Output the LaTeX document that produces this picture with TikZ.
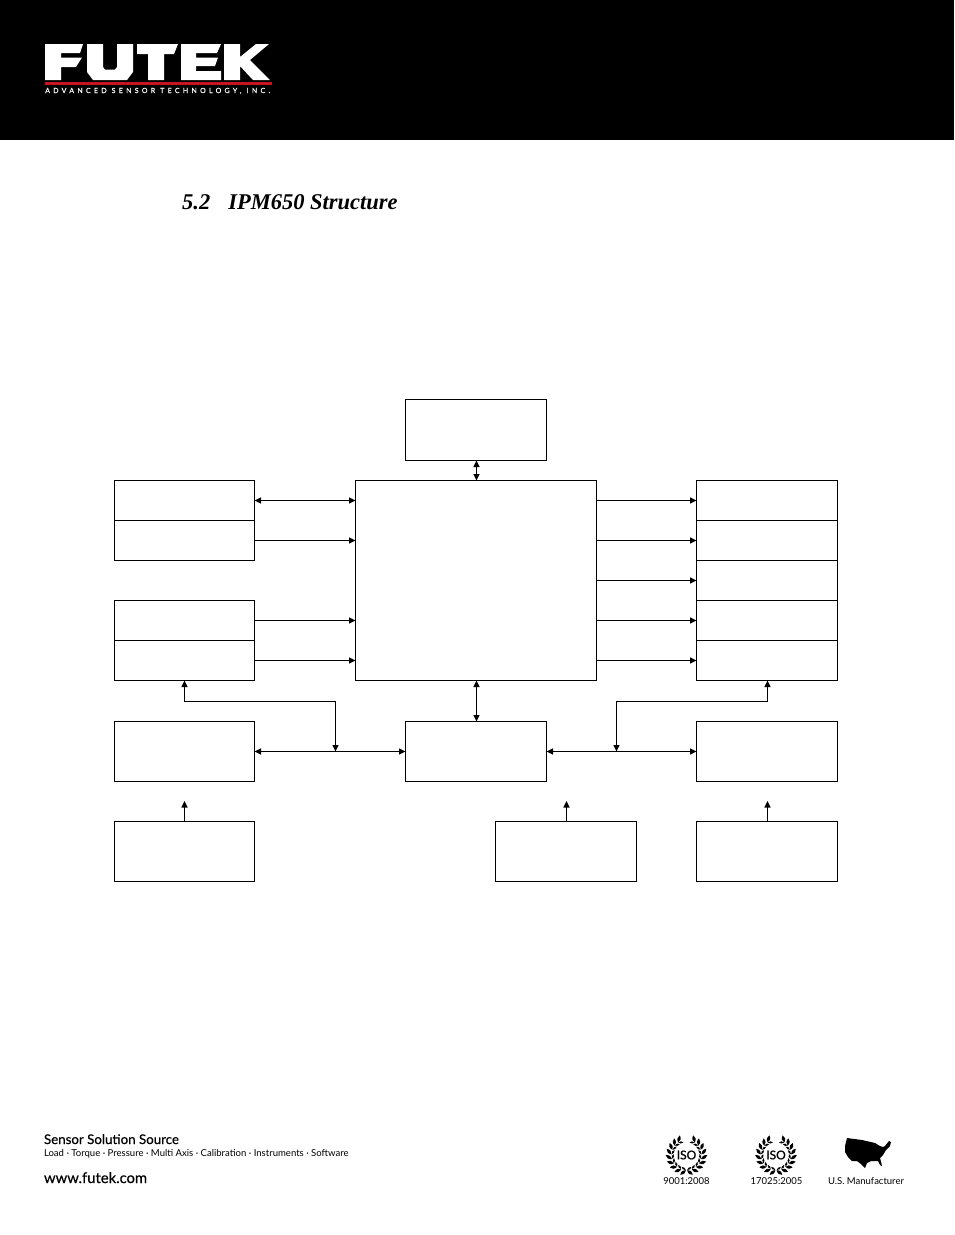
\documentclass[tikz,border=0pt]{standalone}
\usepackage{fontspec}
\setmainfont{Liberation Serif}
\newfontfamily\foot{Lato}
\newfontfamily\footb[FakeBold=0.4]{Lato}
\newfontfamily\isob[FakeBold=1]{Lato}
\newfontfamily\logotxt[LetterSpace=47,FakeBold=0.4]{Lato}
\usetikzlibrary{arrows.meta}
\definecolor{logored}{RGB}{200,20,30}
\tikzset{
  box/.style={draw=black,line width=1.1pt,fill=none,inner sep=0pt,outer sep=0pt,minimum width=#1},
  box/.default=140pt,
  rowbox/.style={box=140pt,minimum height=40pt},
  tallbox/.style={box=141pt,minimum height=60pt},
  arr/.style={line width=1.1pt,-{Stealth[inset=0pt,length=6.5pt,width=6pt]}},
  darr/.style={line width=1.1pt,{Stealth[inset=0pt,length=6.5pt,width=6pt]}-{Stealth[inset=0pt,length=6.5pt,width=6pt]}},
  logoshape/.style={fill=white,draw=none},
  foottext/.style={inner sep=0pt,outer sep=0pt,text=black}
}
\newcommand{\isomark}[2]{%
  \foreach \sx in {1,-1}{%
    \begin{scope}[shift={(#1,#2)},xscale=\sx]
      \foreach \a in {62,44,26,8,-10,-28,-46,-64,-82}{%
        \fill[black,rotate=\a] (15pt,-1.4pt) .. controls (18.5pt,-1.4pt) and (20.5pt,.6pt) .. (20.5pt,3.4pt) .. controls (17pt,3.2pt) and (15pt,1.5pt) .. (15pt,-1.4pt) -- cycle;
        \fill[black,rotate=\a] (15pt,-1.4pt) .. controls (13pt,-.8pt) and (12.2pt,1pt) .. (12.4pt,3.2pt) .. controls (14.4pt,2.8pt) and (15.4pt,1pt) .. (15pt,-1.4pt) -- cycle;
      }
    \end{scope}
  }%
}
\begin{document}
\begin{tikzpicture}[x=1pt,y=-1pt]
\useasboundingbox (0,0) rectangle (954,1235);
\fill[white] (0,0) rectangle (954,1235);
% header
\fill[black] (0,0) rectangle (954,140);
\fill[logoshape] (45,44)--(83,44)--(80,53)--(61,53)--(61,57.5)--(82,57.5)--(76,67)--(61,67)--(61,80)--(45,80)--cycle;
\fill[logoshape] (87,44)--(103,44)--(103,67)--(105,69.5)--(115,69.5)--(117,67)--(117,44)--(133,44)--(133,72)--(127,80)--(93,80)--(87,72)--cycle;
\fill[logoshape] (137,44)--(178,44)--(174,54)--(164,54)--(164,80)--(148,80)--(148,54)--(137,54)--cycle;
\fill[logoshape] (181,44)--(221,44)--(217,53)--(196,53)--(196,57.5)--(218,57.5)--(215,66)--(196,66)--(196,71)--(221,71)--(221,80)--(181,80)--cycle;
\fill[logoshape] (224,44)--(240,44)--(240,57)--(256,44)--(269,44)--(250,60)--(270,80)--(253,80)--(240,66)--(240,80)--(224,80)--cycle;
\fill[logored] (45,82.3) rectangle (272,84.7);
\node[anchor=base west,inner sep=0pt,text=white,font=\logotxt\fontsize{7pt}{8pt}\selectfont] (logosub) at (45,93) {ADVANCED SENSOR TECHNOLOGY, INC.};
% heading
\node[anchor=base west,inner sep=0pt,font=\fontsize{22.5pt}{26pt}\selectfont\bfseries\itshape] (heading) at (182,209) {5.2\hspace{18pt}IPM650 Structure};
% boxes
\node[box=141pt,minimum height=61pt] (T) at (476,430) {};
\node[box=241pt,minimum height=200pt] (C) at (476,580.5) {};
\node[rowbox] (L1) at (184.5,500.5) {};
\node[rowbox] (L2) at (184.5,540.5) {};
\node[rowbox] (L3) at (184.5,620.5) {};
\node[rowbox] (L4) at (184.5,660.5) {};
\node[box=140pt,minimum height=60pt] (L5) at (184.5,751.5) {};
\node[box=140pt,minimum height=60pt] (L6) at (184.5,851.5) {};
\node[tallbox] (B) at (476,751.5) {};
\node[tallbox] (M) at (566,851.5) {};
\node[box=141pt,minimum height=40pt] (R1) at (767,500.5) {};
\node[box=141pt,minimum height=40pt] (R2) at (767,540.5) {};
\node[box=141pt,minimum height=40pt] (R3) at (767,580.5) {};
\node[box=141pt,minimum height=40pt] (R4) at (767,620.5) {};
\node[box=141pt,minimum height=40pt] (R5) at (767,660.5) {};
\node[tallbox] (R6) at (767,751.5) {};
\node[tallbox] (R7) at (767,851.5) {};
% free ends
\coordinate (J1) at (335.5,751.5);
\coordinate (K1) at (335.5,701.5);
\coordinate (J2) at (616.5,751.5);
\coordinate (K2) at (616.5,701.5);
\coordinate (E1) at (184.5,801);
\coordinate (E2) at (566.5,801);
\coordinate (E3) at (767.5,801);
% connectors
\draw[darr] ([xshift=.5pt]T.south) -- ([xshift=.5pt]C.north);
\draw[darr] ([xshift=.5pt]C.south) -- ([xshift=.5pt]B.north);
\draw[darr] (L1.east) -- (L1.east -| C.west);
\draw[arr] (L2.east) -- (L2.east -| C.west);
\draw[arr] (L3.east) -- (L3.east -| C.west);
\draw[arr] (L4.east) -- (L4.east -| C.west);
\draw[arr] (R1.west -| C.east) -- (R1.west);
\draw[arr] (R2.west -| C.east) -- (R2.west);
\draw[arr] (R3.west -| C.east) -- (R3.west);
\draw[arr] (R4.west -| C.east) -- (R4.west);
\draw[arr] (R5.west -| C.east) -- (R5.west);
\draw[darr] (L5.east) -- (B.west);
\draw[darr] (B.east) -- (R6.west);
\draw[darr] (L4.south) |- (K1) -- (J1);
\draw[darr] ([xshift=.5pt]R5.south) |- (K2) -- (J2);
\draw[arr] (L6.north) -- (E1);
\draw[arr] ([xshift=.5pt]M.north) -- (E2);
\draw[arr] ([xshift=.5pt]R7.north) -- (E3);
% footer
\node[foottext,anchor=base west,font=\footb\fontsize{13.3pt}{15pt}\selectfont] (slogan) at (44,1144) {Sensor Solution Source};
\node[foottext,anchor=base west,font=\foot\fontsize{9.55pt}{12pt}\selectfont] (lines) at (44,1156) {Load · Torque · Pressure · Multi Axis · Calibration · Instruments · Software};
\node[foottext,anchor=base west,font=\footb\fontsize{14.8pt}{16pt}\selectfont] (web) at (44,1183) {www.futek.com};
\isomark{686.5}{1155}
\isomark{776}{1155}
\node[foottext,font=\isob\fontsize{12pt}{12pt}\selectfont] (iso1) at (686.5,1155) {ISO};
\node[foottext,font=\isob\fontsize{12pt}{12pt}\selectfont] (iso2) at (776,1155) {ISO};
\node[foottext,anchor=base,font=\foot\fontsize{9.5pt}{11pt}\selectfont] (c1) at (686.5,1184) {9001:2008};
\node[foottext,anchor=base,font=\foot\fontsize{9.5pt}{11pt}\selectfont] (c2) at (776.5,1184) {17025:2005};
\node[foottext,anchor=base,font=\foot\fontsize{9.5pt}{11pt}\selectfont] (c3) at (866,1184) {U.S. Manufacturer};
\fill[black] (847,1138)--(862,1140)--(875,1143)--(880,1146)--(883,1147)--(885,1146)--(889,1141)--(891,1142)--(890,1146)--(886,1150)--(883,1155)--(880,1158)--(882,1166)--(880,1165)--(878,1161)--(871,1161)--(867,1163)--(865,1168)--(861,1164)--(857,1161)--(852,1161)--(848,1157)--(845,1152)--(845,1146)--cycle;
\end{tikzpicture}
\end{document}
